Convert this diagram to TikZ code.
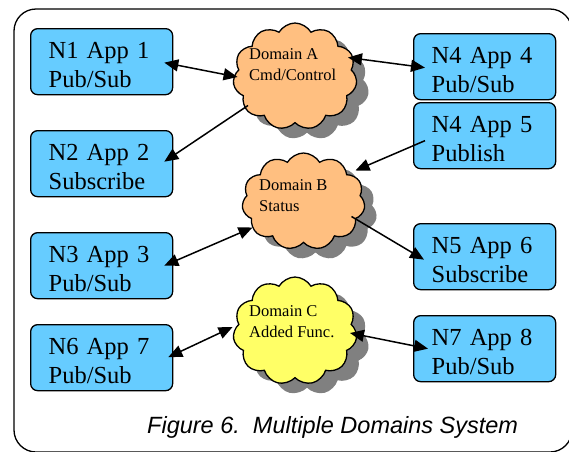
\documentclass[tikz,border=0pt]{standalone}
\usepackage{fontspec}
\setmainfont{Liberation Serif}
\setsansfont{Liberation Sans}
\usetikzlibrary{shapes.symbols,shadows,arrows.meta}

\definecolor{appblue}{HTML}{66CCFF}
\definecolor{peach}{HTML}{FFBF80}
\definecolor{lemon}{HTML}{FFFF66}
\definecolor{shadowgray}{HTML}{808080}

\tikzset{
  appbox/.style={draw, line width=1.3pt, rounded corners=7pt, fill=appblue,
    anchor=north west, minimum width=142pt, minimum height=66pt,
    inner xsep=18pt, inner ysep=0pt, text width=106pt, align=left,
    text height=20pt, text depth=26pt,
    font=\fontsize{24.5pt}{29pt}\selectfont},
  domcloud/.style={cloud, cloud puffs=11, cloud puff arc=120,
    draw, line width=1.3pt, inner sep=0pt,
    drop shadow={shadow xshift=12pt, shadow yshift=-10pt, fill=shadowgray, opacity=1}},
  domtext/.style={anchor=base west, align=left, inner sep=0pt,
    font=\fontsize{16.5pt}{20.5pt}\selectfont},
  tip/.tip={Triangle[length=14pt,width=12pt]},
  link/.style={line width=1.5pt, -tip},
  dlink/.style={line width=1.5pt, tip-tip}
}

\begin{document}
\begin{tikzpicture}[x=1pt, y=-1pt]
\useasboundingbox (0,0) rectangle (569,451);
\fill[white] (0,0) rectangle (569,451);

% outer frame
\draw[line width=1.3pt, rounded corners=22pt] (14,9) rectangle (572,452);

% application boxes
\node[appbox] (n1) at (30,28)  {N1 App 1\\Pub/Sub};
\node[appbox] (n2) at (30,130) {N2 App 2\\Subscribe};
\node[appbox] (n3) at (30,232) {N3 App 3\\Pub/Sub};
\node[appbox] (n6) at (30,324) {N6 App 7\\Pub/Sub};
\node[appbox] (n4) at (413,33)  {N4 App 4\\Pub/Sub};
\node[appbox] (n5) at (413,102) {N4 App 5\\Publish};
\node[appbox] (n7) at (413,223) {N5 App 6\\Subscribe};
\node[appbox] (n8) at (413,315) {N7 App 8\\Pub/Sub};

% domain clouds
\node[domcloud, fill=peach, minimum width=124pt, minimum height=107pt] (ca) at (295,76.5) {};
\node[domcloud, fill=peach, minimum width=123pt, minimum height=97pt] (cb) at (303.5,201.5) {};
\node[domcloud, fill=lemon, minimum width=124pt, minimum height=108pt] (cc) at (295,331) {};

\node[domtext] (ta) at (249,80)  {Domain A\\Cmd/Control};
\node[domtext] (tb) at (259,211) {Domain B\\Status};
\node[domtext] (tc) at (249,337) {Domain C\\Added Func.};

% connectors
\draw[dlink] ([xshift=-9pt,yshift=-1pt]n1.east) -- ([xshift=4pt,yshift=-0.5pt]ca.west);
\draw[link]  ([xshift=-47pt,yshift=-29pt]ca.center) -- ([xshift=-9pt,yshift=2pt]n2.east);
\draw[dlink] ([xshift=53pt,yshift=19pt]ca.center) -- ([xshift=12pt,yshift=-1pt]n4.west);
\draw[link]  ([xshift=12pt,yshift=-5pt]n5.west) -- ([xshift=52pt,yshift=31pt]cb.center);
\draw[link]  ([xshift=48pt,yshift=-15pt]cb.center) -- ([xshift=11pt,yshift=-3pt]n7.west);
\draw[dlink] ([xshift=-9pt,yshift=0pt]n3.east) -- ([xshift=-51pt,yshift=-26pt]cb.center);
\draw[dlink] ([xshift=-5pt,yshift=0.5pt]n6.east) -- ([xshift=-1pt,yshift=4pt]cc.west);
\draw[dlink] ([xshift=55pt,yshift=-2pt]cc.center) -- ([xshift=15pt,yshift=0pt]n8.west);

% caption
\node[anchor=base west, inner sep=0pt, font=\sffamily\itshape\fontsize{23.5pt}{26pt}\selectfont]
  (cap) at (147,433) {Figure 6.\ \ Multiple Domains System};
\end{tikzpicture}
\end{document}
